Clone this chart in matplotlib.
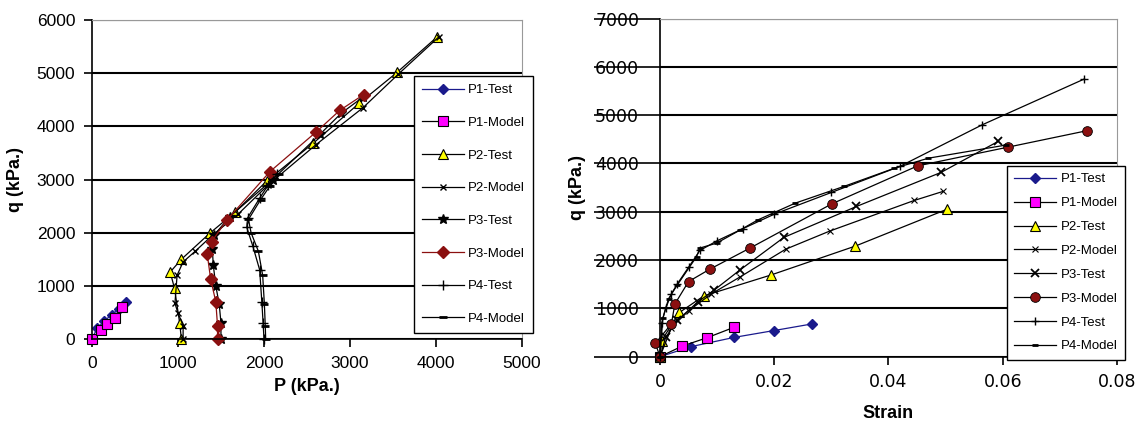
import numpy as np
import matplotlib
matplotlib.use("Agg")
import matplotlib.pyplot as plt

plt.rcParams['font.family'] = ['Liberation Sans', 'DejaVu Sans']

# ---- left plot: p-q paths (kPa) ----
p1_test_p = [0, 60, 140, 230, 320, 400]
p1_test_q = [0, 200, 330, 460, 570, 690]
p1_mod_p = [0, 110, 170, 270, 350]
p1_mod_q = [0, 160, 280, 390, 610]
p2_test_p = [1040, 1020, 960, 910, 1040, 1370, 1660, 2030, 2570, 3110, 3550, 4010]
p2_test_q = [0, 300, 950, 1260, 1500, 1990, 2380, 2970, 3680, 4440, 5020, 5680]
p2_mod_p = [1060, 1060, 1000, 965, 990, 1060, 1200, 1400, 1700, 2050, 2600, 3150, 3560, 4030]
p2_mod_q = [0, 250, 490, 670, 1200, 1450, 1650, 1950, 2350, 2900, 3650, 4350, 4980, 5680]
p3_test_p = [1500, 1500, 1480, 1440, 1410, 1400, 1420, 1600, 2100, 2650, 2900, 3150]
p3_test_q = [0, 300, 650, 1000, 1400, 1700, 1950, 2300, 3000, 3850, 4250, 4550]
p3_mod_p = [1460, 1460, 1440, 1380, 1340, 1390, 1570, 2070, 2610, 2880, 3160]
p3_mod_q = [0, 250, 700, 1130, 1600, 1830, 2240, 3150, 3900, 4300, 4600]
p4_test_p = [2000, 1990, 1975, 1950, 1870, 1800, 1810, 1950, 2050, 2150]
p4_test_q = [0, 300, 700, 1300, 1750, 2100, 2280, 2650, 2900, 3100]
p4_mod_p = [2020, 2015, 2005, 1985, 1935, 1850, 1820, 1960, 2070, 2170]
p4_mod_q = [0, 250, 650, 1200, 1650, 2000, 2250, 2620, 2880, 3100]

# ---- right plot: stress-strain ----
e1_test = [0, 0.0055, 0.013, 0.0199, 0.0267]
q1_test = [0, 210, 400, 540, 680]
e1_mod = [0, 0.0039, 0.0083, 0.013]
q1_mod = [0, 220, 395, 610]
e2_test = [0, 0.0003, 0.0034, 0.0077, 0.0194, 0.0342, 0.0503]
q2_test = [0, 335, 915, 1260, 1690, 2290, 3055]
e2_mod = [0, 0.002, 0.005, 0.009, 0.014, 0.022, 0.0297, 0.0445, 0.0495]
q2_mod = [0, 600, 950, 1300, 1650, 2225, 2600, 3234, 3420]
e3_test = [0, 0.001, 0.003, 0.0067, 0.0095, 0.014, 0.0217, 0.0344, 0.0492, 0.0592]
q3_test = [0, 400, 750, 1140, 1380, 1795, 2470, 3110, 3815, 4457]
e3_mod = [0, -0.0008, 0.002, 0.0026, 0.005, 0.0087, 0.0157, 0.0301, 0.0451, 0.061, 0.0748]
q3_mod = [0, 275, 680, 1090, 1555, 1810, 2245, 3165, 3950, 4340, 4680]
e4_test = [0, 0.0003, 0.001, 0.002, 0.003, 0.005, 0.007, 0.01, 0.0145, 0.02, 0.03, 0.042, 0.0564, 0.0743]
q4_test = [0, 700, 1000, 1300, 1500, 1850, 2200, 2400, 2650, 2950, 3400, 3940, 4800, 5750]
e4_mod = [0, 0.0005, 0.0015, 0.003, 0.0064, 0.007, 0.0099, 0.014, 0.0171, 0.0237, 0.0322, 0.041, 0.047, 0.0605]
q4_mod = [0, 800, 1200, 1480, 2070, 2250, 2350, 2620, 2830, 3180, 3525, 3900, 4110, 4380]

labels = ['P1-Test', 'P1-Model', 'P2-Test', 'P2-Model',
          'P3-Test', 'P3-Model', 'P4-Test', 'P4-Model']

navy = '#1a1a8c'
dred = '#8b1010'

fig = plt.figure(figsize=(11.45, 4.28), dpi=100)
ax1 = fig.add_axes([0.0803, 0.208, 0.3756, 0.745])
ax2 = fig.add_axes([0.5764, 0.1666, 0.3991, 0.79])

lw = 0.9
# left
ax1.plot(p1_test_p, p1_test_q, color=navy, lw=lw, marker='D', ms=5, mfc=navy, mec=navy, clip_on=False)
ax1.plot(p1_mod_p, p1_mod_q, color='black', lw=lw, marker='s', ms=7, mfc='#ff00ff', mec='black', mew=0.8, clip_on=False)
ax1.plot(p2_test_p, p2_test_q, color='black', lw=lw, marker='^', ms=7, mfc='#ffff00', mec='black', mew=0.8, clip_on=False)
ax1.plot(p2_mod_p, p2_mod_q, color='black', lw=lw, marker='x', ms=5, mew=1, clip_on=False)
ax1.plot(p3_test_p, p3_test_q, color='black', lw=lw, marker='*', ms=7, clip_on=False)
ax1.plot(p3_mod_p, p3_mod_q, color=dred, lw=lw, marker='D', ms=6, mfc=dred, mec=dred, clip_on=False)
ax1.plot(p4_test_p, p4_test_q, color='black', lw=lw, marker='+', ms=7, mew=1, clip_on=False)
ax1.plot(p4_mod_p, p4_mod_q, color='black', lw=lw, marker='_', ms=6, mew=2, clip_on=False)

# right
ax2.plot(e1_test, q1_test, color=navy, lw=lw, marker='D', ms=5, mfc=navy, mec=navy, clip_on=False)
ax2.plot(e1_mod, q1_mod, color='black', lw=lw, marker='s', ms=7, mfc='#ff00ff', mec='black', mew=0.8, clip_on=False)
ax2.plot(e2_test, q2_test, color='black', lw=lw, marker='^', ms=7, mfc='#ffff00', mec='black', mew=0.8, clip_on=False)
ax2.plot(e2_mod, q2_mod, color='black', lw=lw, marker='x', ms=5, mew=0.8, clip_on=False)
ax2.plot(e3_test, q3_test, color='black', lw=lw, marker='x', ms=6, mew=1.3, clip_on=False)
ax2.plot(e3_mod, q3_mod, color='black', lw=lw, marker='o', ms=7, mfc=dred, mec='black', mew=0.6, clip_on=False)
ax2.plot(e4_test, q4_test, color='black', lw=lw, marker='+', ms=6, mew=1, clip_on=False)
ax2.plot(e4_mod, q4_mod, color='black', lw=lw, marker='_', ms=5, mew=2, clip_on=False)

for ax in (ax1, ax2):
    ax.yaxis.grid(True, color='black', lw=1.5)
    ax.set_axisbelow(True)
    ax.spines['top'].set_color('#999999')
    ax.spines['right'].set_color('#999999')
    ax.spines['left'].set_linewidth(1.2)
    ax.spines['bottom'].set_linewidth(1.2)
    ax.tick_params(direction='out', length=6, width=1.2, labelsize=12.5, pad=6)
    ax.set_ylabel('q (kPa.)', fontsize=13, fontweight='bold')

ax1.set_xlim(0, 5000)
ax1.set_ylim(0, 6000)
ax1.set_xticks(np.arange(0, 5001, 1000))
ax1.set_yticks(np.arange(0, 6001, 1000))
ax1.set_xlabel('P (kPa.)', fontsize=13, fontweight='bold', labelpad=5)
ax1.yaxis.set_label_coords(-0.158, 0.5)

ax2.set_xlim(0, 0.08)
ax2.set_ylim(0, 7000)
ax2.set_xticks([0, 0.02, 0.04, 0.06, 0.08])
ax2.set_xticklabels(['0', '0.02', '0.04', '0.06', '0.08'])
ax2.set_yticks(np.arange(0, 7001, 1000))
# y ticks run through the labels as in the source image (points)
ax2.tick_params(axis='y', length=47.5, width=1.2, pad=-32.5)
ax2.tick_params(axis='x', pad=6)
for t in ax2.get_xticklabels() + ax2.get_yticklabels():
    t.set_fontfamily(['DejaVu Sans'])
    t.set_fontsize(12.5)
ax2.set_xlabel('Strain', fontsize=13, fontweight='bold', labelpad=10)
ax2.yaxis.set_label_coords(-0.162, 0.5)

leg1 = ax1.legend(labels, loc='upper left', bbox_to_anchor=(414 / 1145, 1 - 76 / 428),
                  bbox_transform=fig.transFigure, fontsize=9.5, labelspacing=1.55,
                  handlelength=3.2, handletextpad=0.3, borderpad=0.6, fancybox=False,
                  framealpha=1, edgecolor='black', borderaxespad=0)
leg1.get_frame().set_linewidth(1.0)
leg2 = ax2.legend(labels, loc='upper left', bbox_to_anchor=(1007 / 1145, 1 - 166 / 428),
                  bbox_transform=fig.transFigure, fontsize=9.5, labelspacing=0.88,
                  handlelength=3.2, handletextpad=0.3, borderpad=0.55, fancybox=False,
                  framealpha=1, edgecolor='black', borderaxespad=0)
leg2.get_frame().set_linewidth(1.0)

fig.savefig('out.png', dpi=100)
